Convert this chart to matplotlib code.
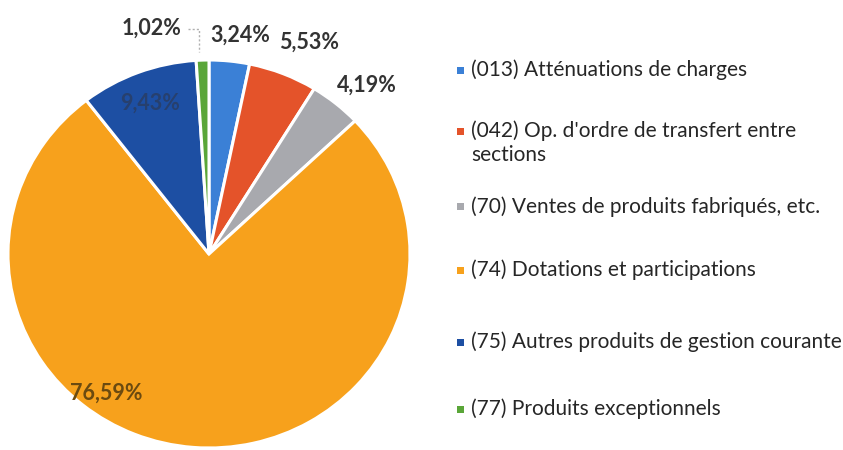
import numpy as np
import matplotlib
matplotlib.use("Agg")
import matplotlib.pyplot as plt

plt.rcParams['font.family'] = ['Lato', 'DejaVu Sans']

# data, clockwise from 12 o'clock
labels = ["(013) Atténuations de charges",
          "(042) Op. d'ordre de transfert entre\nsections",
          "(70) Ventes de produits fabriqués, etc.",
          "(74) Dotations et participations",
          "(75) Autres produits de gestion courante",
          "(77) Produits exceptionnels"]
values = [3.24, 5.53, 4.19, 76.59, 9.43, 1.02]
pct_text = ["3,24%", "5,53%", "4,19%", "76,59%", "9,43%", "1,02%"]
colors = ['#3b80d6', '#e4532a', '#a8a9ae', '#f7a11c', '#1d4fa3', '#5aa638']

W, H = 843, 450
fig = plt.figure(figsize=(W / 100, H / 100), dpi=100)

# pie is slightly squashed in the scan: rx 201 px, ry 194 px, centre (209, 254)
cx, cy, rx, ry = 209, 254, 201, 194
ax = fig.add_axes([(cx - rx) / W, (H - cy - ry) / H, 2 * rx / W, 2 * ry / H])
wedges, _ = ax.pie(values, colors=colors, startangle=90, counterclock=False,
                   radius=1.0, wedgeprops=dict(edgecolor='white', linewidth=2.2))
ax.set_aspect('auto')
ax.set_xlim(-1, 1)
ax.set_ylim(-1, 1)
for w in wedges:
    w.set_clip_on(False)

# label placement: (radius, angle shift in deg, text colour)
lab_style = [(1.14, -2, '#333333'), (1.20, -3, '#333333'), (1.17, -3, '#333333'),
             (0.88, -31, '#6b4a10'), (0.83, 0, '#27406e'), (1.20, 12, '#333333')]
edges = np.cumsum([0] + values)
for i, v in enumerate(values):
    mid = 90 - (edges[i] + v / 2) * 3.6
    r, shift, col = lab_style[i]
    a = np.deg2rad(mid + shift)
    ax.text(r * np.cos(a), r * np.sin(a), pct_text[i], ha='center', va='center',
            fontsize=15.5, fontweight='bold', color=col)

# leader line for the small green slice
ax.plot([-0.104, -0.05, -0.05], [1.16, 1.16, 1.04], color='#b0b0b0',
        lw=1.0, ls=(0, (1.5, 1.5)), clip_on=False)

# legend, drawn by hand to keep Excel's spacing
leg_y = [70, 131, 207, 270, 342, 409]
for i, lab in enumerate(labels):
    y = leg_y[i]
    fig.patches.append(plt.Rectangle((457 / W, (H - y - 3.5) / H), 7 / W, 7 / H,
                                     transform=fig.transFigure, facecolor=colors[i],
                                     edgecolor='none'))
    if '\n' in lab:
        fig.text(471 / W, (H - y + 11) / H, lab, ha='left', va='top',
                 fontsize=15, color='#262626', linespacing=1.3)
    else:
        fig.text(471 / W, (H - y) / H, lab, ha='left', va='center',
                 fontsize=15, color='#262626')

fig.savefig('out.png', dpi=100, facecolor='white')
